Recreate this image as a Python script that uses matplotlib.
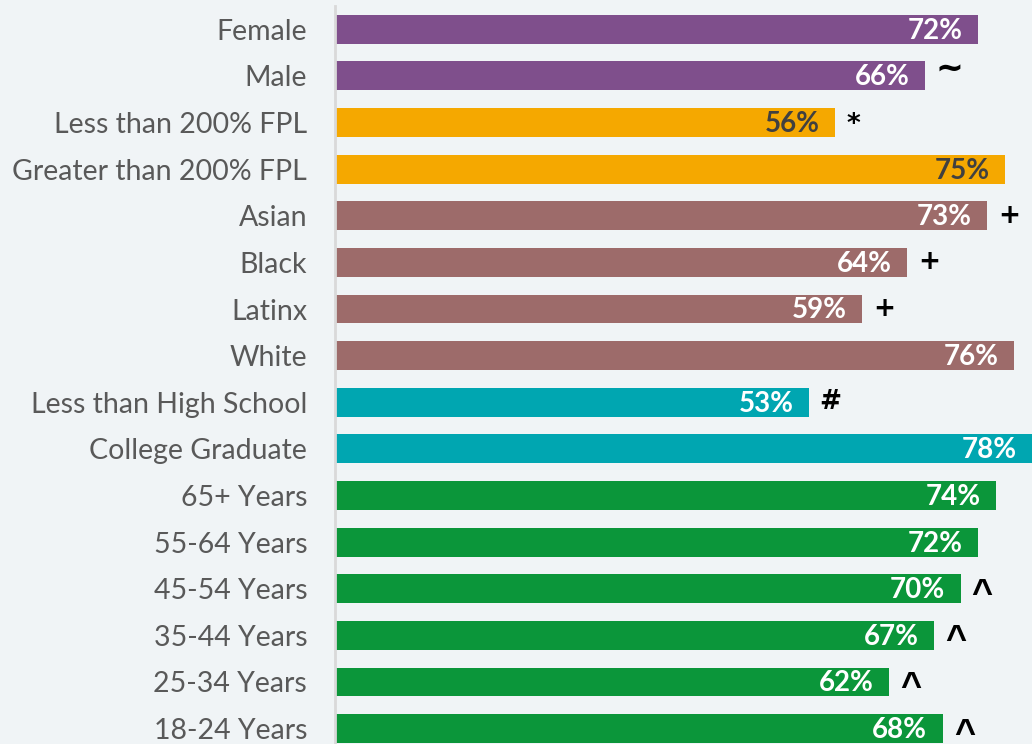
import matplotlib.pyplot as plt

# data
labels = ["Female", "Male", "Less than 200% FPL", "Greater than 200% FPL",
          "Asian", "Black", "Latinx", "White",
          "Less than High School", "College Graduate",
          "65+ Years", "55-64 Years", "45-54 Years", "35-44 Years",
          "25-34 Years", "18-24 Years"]
values = [72, 66, 56, 75, 73, 64, 59, 76, 53, 78, 74, 72, 70, 67, 62, 68]
marks = ["", "~", "*", "", "+", "+", "+", "", "#", "", "", "", "^", "^", "^", "^"]
groups = ["sex", "sex", "fpl", "fpl", "race", "race", "race", "race",
          "edu", "edu", "age", "age", "age", "age", "age", "age"]

colors = {"sex": "#7F4F8C", "fpl": "#F5A800", "race": "#9D6B6A",
          "edu": "#00A6B1", "age": "#0B963A"}
text_colors = {"sex": "white", "fpl": "#404040", "race": "white",
               "edu": "white", "age": "white"}
# marker glyph font/size and small nudges so they sit like the original
mark_font = {"~": "DejaVu Sans", "*": "DejaVu Sans", "+": "DejaVu Sans",
             "#": "DejaVu Sans", "^": "Liberation Sans"}
mark_size = {"~": 24, "*": 19, "+": 19, "#": 19, "^": 26}
mark_dy = {"~": 5, "*": -2, "+": 0, "#": 0, "^": -4}

bg = "#F0F4F6"
plt.rcParams["font.family"] = ["Lato", "DejaVu Sans"]

fig = plt.figure(figsize=(10.32, 7.44), dpi=100, facecolor=bg)
ax = fig.add_axes([335 / 1032, 0, 1 - 335 / 1032, 738 / 744])
ax.set_facecolor(bg)

y = list(range(len(labels)))
ax.barh(y, values, height=0.62, color=[colors[g] for g in groups], zorder=2)

for i, (v, m, g) in enumerate(zip(values, marks, groups)):
    ax.annotate(f"{v}%", (v, i), xytext=(-11, -1), textcoords="offset points",
                ha="right", va="center", fontsize=20, fontweight="bold",
                color=text_colors[g], zorder=3)
    if m:
        ax.annotate(m, (v, i), xytext=(8, mark_dy[m]),
                    textcoords="offset points", ha="left", va="center",
                    fontsize=mark_size[m], fontweight="bold", color="black",
                    family=mark_font[m], zorder=3)

ax.set_xlim(0, 78)
ax.set_ylim(15.33, -0.50)
ax.set_yticks(y)
ax.set_yticklabels(labels, fontsize=20.5, color="#595959")
ax.tick_params(axis="y", length=0, pad=20)
ax.set_xticks([])
for s in ["top", "right", "bottom"]:
    ax.spines[s].set_visible(False)
ax.spines["left"].set_color("#D9D9D9")
ax.spines["left"].set_linewidth(2)

fig.savefig("out.png", dpi=100, facecolor=bg)
